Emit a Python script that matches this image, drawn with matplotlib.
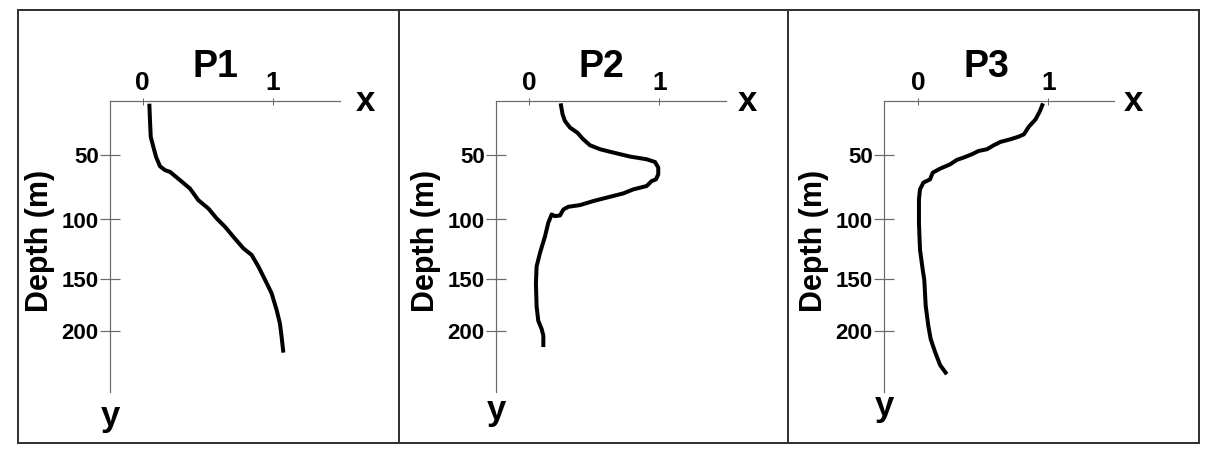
import numpy as np
import matplotlib
matplotlib.use("Agg")
import matplotlib.pyplot as plt
from matplotlib.patches import Rectangle
from matplotlib.lines import Line2D

plt.rcParams['font.family'] = ['Liberation Sans', 'DejaVu Sans']
plt.rcParams['font.weight'] = 'bold'

# ---------------- data ----------------
titles = ["P1", "P2", "P3"]
x_ticks = [0, 1]
depth_ticks = [50, 100, 150, 200]

p1_x = [0.051, 0.056, 0.062, 0.082, 0.103, 0.133, 0.172, 0.210, 0.287, 0.364, 0.428,
        0.505, 0.569, 0.633, 0.697, 0.774, 0.838, 0.890, 0.928, 0.954, 0.992, 1.031,
        1.056, 1.069, 1.082]
p1_depth = [2.5, 18.0, 33.5, 42.9, 51.8, 59.0, 62.0, 63.3, 69.7, 76.2, 85.1,
            91.5, 99.2, 106.1, 114.5, 124.3, 129.9, 139.7, 148.0, 154.2, 163.9, 180.0,
            192.9, 205.8, 220.3]

p2_x = [0.241, 0.256, 0.274, 0.313, 0.369, 0.415, 0.467, 0.544, 0.646, 0.774, 0.903,
        0.967, 0.992, 0.992, 0.974, 0.941, 0.903, 0.800, 0.723, 0.621, 0.492, 0.390,
        0.300, 0.262, 0.236, 0.197, 0.172, 0.146, 0.121, 0.082, 0.056, 0.051, 0.056,
        0.069, 0.095, 0.108, 0.108]
p2_depth = [2.2, 12.4, 18.6, 24.8, 29.5, 35.7, 41.3, 45.0, 48.1, 51.5, 53.6,
            55.7, 60.0, 65.2, 69.1, 70.4, 74.2, 76.8, 79.9, 82.5, 85.8, 88.9,
            90.2, 92.3, 96.9, 97.4, 96.1, 102.8, 114.1, 128.3, 139.6, 154.1, 175.9,
            190.0, 197.8, 204.1, 215.0]

p3_x = [0.959, 0.936, 0.902, 0.851, 0.812, 0.773, 0.709, 0.631, 0.580, 0.528, 0.464,
        0.412, 0.348, 0.296, 0.245, 0.168, 0.111, 0.090, 0.039, 0.013, 0.005, 0.005,
        0.013, 0.034, 0.046, 0.057, 0.077, 0.095, 0.129, 0.168, 0.219]
p3_depth = [2.2, 9.3, 17.1, 23.9, 31.1, 33.2, 35.7, 38.2, 41.3, 45.0, 46.6,
            49.7, 52.3, 54.1, 57.5, 60.8, 63.9, 69.1, 71.6, 76.8, 84.5, 102.8,
            125.4, 142.4, 150.9, 175.9, 194.7, 207.2, 219.7, 232.2, 240.9]

profiles_x = [p1_x, p2_x, p3_x]
profiles_depth = [p1_depth, p2_depth, p3_depth]

# ---------------- non-uniform depth scale of the original drawing ----------------
SCALE_DEPTH = np.array([-100.0, 0.0, 50.0, 100.0, 150.0, 200.0, 400.0])
SCALE_POS = np.array([-107.2, 0.0, 53.6, 118.5, 177.8, 230.3, 440.3])


def depth_fwd(d):
    return np.interp(d, SCALE_DEPTH, SCALE_POS)


def depth_inv(p):
    return np.interp(p, SCALE_POS, SCALE_DEPTH)


# ---------------- layout (pixels) ----------------
W, H = 1210, 465
AX_TOP, AX_BOTTOM, AX_W = 101, 392, 230
UNIT = 130.0
layout = [
    dict(left=110, x0=142.7, title_x=0.562, xlab_dx=25, ylab_base=426),
    dict(left=496, x0=529.3, title_x=0.557, xlab_dx=21, ylab_base=420),
    dict(left=884, x0=918.3, title_x=0.526, xlab_dx=19, ylab_base=416),
]
PT = 72.0 / 100.0  # points per pixel

fig = plt.figure(figsize=(W / 100, H / 100), dpi=100)
fig.patch.set_facecolor('white')

AXIS_COLOR = '#6a6a6a'
for i, L in enumerate(layout):
    ax = fig.add_axes([L['left'] / W, 1 - AX_BOTTOM / H, AX_W / W, (AX_BOTTOM - AX_TOP) / H])
    ax.set_yscale('function', functions=(depth_fwd, depth_inv))
    ax.set_xlim((L['left'] - L['x0']) / UNIT, (L['left'] + AX_W - L['x0']) / UNIT)
    ax.set_ylim(depth_inv(AX_BOTTOM - AX_TOP), 0)
    ax.patch.set_alpha(0)

    ax.plot(profiles_x[i], profiles_depth[i], color='black', lw=4 * PT,
            solid_joinstyle='round', solid_capstyle='butt')

    for s in ['right', 'bottom']:
        ax.spines[s].set_visible(False)
    for s in ['left', 'top']:
        ax.spines[s].set_color(AXIS_COLOR)
        ax.spines[s].set_linewidth(1.2 * PT)

    ax.xaxis.tick_top()
    ax.set_xticks(x_ticks)
    ax.set_xticklabels([str(v) for v in x_ticks], fontsize=19, fontweight='bold')
    ax.tick_params(axis='x', direction='inout', length=7 * PT, width=1.0 * PT,
                   color=AXIS_COLOR, pad=2)
    ax.set_yticks(depth_ticks)
    ax.yaxis.set_minor_locator(matplotlib.ticker.NullLocator())
    ax.set_yticklabels([str(v) for v in depth_ticks], fontsize=16, fontweight='bold')
    ax.tick_params(axis='y', direction='inout', length=20 * PT, width=1.2 * PT,
                   color=AXIS_COLOR, pad=1)

    ax.annotate(titles[i], xy=(L['title_x'], 1), xycoords=('data', 'axes fraction'),
                xytext=(0, 24 * PT), textcoords='offset points',
                ha='center', va='baseline', fontsize=27, fontweight='bold')
    ax.annotate('x', xy=(1, 1), xycoords='axes fraction',
                xytext=(L['xlab_dx'] * PT, -10 * PT), textcoords='offset points',
                ha='center', va='baseline', fontsize=25, fontweight='bold')
    ax.annotate('y', xy=(0, 0), xycoords='axes fraction',
                xytext=(0, -(L['ylab_base'] - AX_BOTTOM) * PT), textcoords='offset points',
                ha='center', va='baseline', fontsize=25, fontweight='bold')
    ax.annotate('Depth (m)', xy=(0, 0.52), xycoords='axes fraction',
                xytext=(-70 * PT, 0), textcoords='offset points',
                ha='center', va='center', rotation=90, fontsize=22, fontweight='bold')

# panel frames
BORDER = '#333333'
fig.add_artist(Rectangle((18 / W, 1 - 443 / H), (1199 - 18) / W, (443 - 10) / H,
                         transform=fig.transFigure, fill=False, lw=2 * PT, ec=BORDER))
for xd in [399, 788]:
    fig.add_artist(Line2D([xd / W, xd / W], [1 - 443 / H, 1 - 10 / H],
                          transform=fig.transFigure, lw=2 * PT, color=BORDER))

fig.savefig('out.png', dpi=100, facecolor='white')
